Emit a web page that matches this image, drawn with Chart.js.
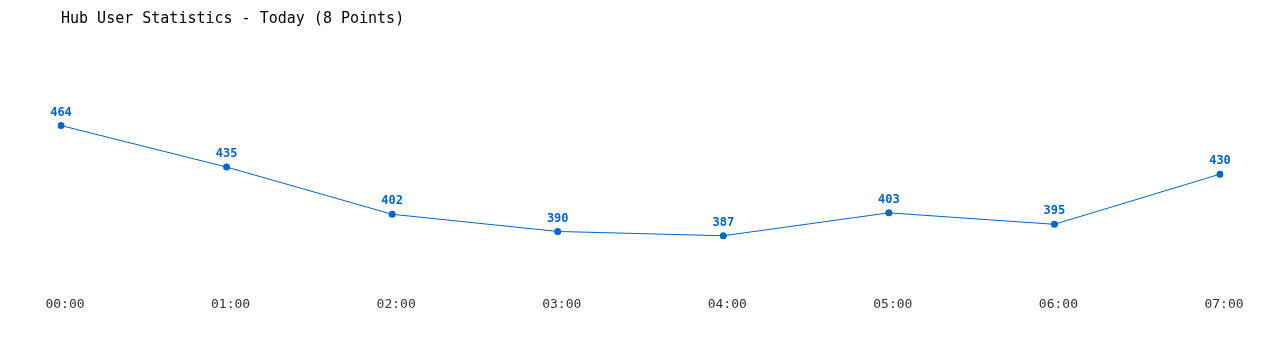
<!DOCTYPE html>
<html>
<head>
<meta charset="utf-8">
<style>
  html, body { margin: 0; padding: 0; background: #fff; }
  #wrap { width: 1280px; height: 350px; }
</style>
<script src="https://cdn.jsdelivr.net/npm/chart.js@4/dist/chart.umd.min.js"></script>
</head>
<body>
<div id="wrap"><canvas id="chart" width="1280" height="350"></canvas></div>
<script>
  var hours = ['00:00', '01:00', '02:00', '03:00', '04:00', '05:00', '06:00', '07:00'];
  var users = [464, 435, 402, 390, 387, 403, 395, 430];

  var blue = '#0066cc';

  // draws the value above each point
  var valueLabels = {
    id: 'valueLabels',
    afterDatasetsDraw: function (chart) {
      var ctx = chart.ctx;
      var meta = chart.getDatasetMeta(0);
      ctx.save();
      ctx.font = 'bold 12px "DejaVu Sans Mono", monospace';
      ctx.fillStyle = blue;
      ctx.textAlign = 'center';
      ctx.textBaseline = 'bottom';
      meta.data.forEach(function (pt, i) {
        ctx.fillText(String(chart.data.datasets[0].data[i]), pt.x, pt.y - 7);
      });
      ctx.restore();
    }
  };

  new Chart(document.getElementById('chart').getContext('2d'), {
    type: 'line',
    data: {
      labels: hours,
      datasets: [{
        data: users,
        borderColor: blue,
        borderWidth: 1,
        backgroundColor: blue,
        pointRadius: 3.5,
        pointHoverRadius: 3.5,
        pointBackgroundColor: blue,
        pointBorderWidth: 0,
        tension: 0,
        fill: false
      }]
    },
    options: {
      responsive: false,
      animation: false,
      layout: { padding: { left: 61, right: 60, top: 0, bottom: 16 } },
      plugins: {
        legend: { display: false },
        tooltip: { enabled: false },
        title: {
          display: true,
          text: 'Hub User Statistics - Today (8 Points)',
          align: 'start',
          color: '#000',
          font: { family: '"DejaVu Sans Mono", monospace', size: 15, weight: 'normal' },
          padding: { top: 10, bottom: 46 }
        }
      },
      scales: {
        x: {
          offset: false,
          grid: { display: false, drawTicks: false },
          border: { display: false },
          ticks: {
            color: '#333',
            padding: 22,
            labelOffset: 4,
            maxRotation: 0,
            font: { family: '"DejaVu Sans Mono", monospace', size: 13 }
          }
        },
        y: {
          display: false,
          min: 360,
          max: 500
        }
      }
    },
    plugins: [valueLabels]
  });
</script>
</body>
</html>
